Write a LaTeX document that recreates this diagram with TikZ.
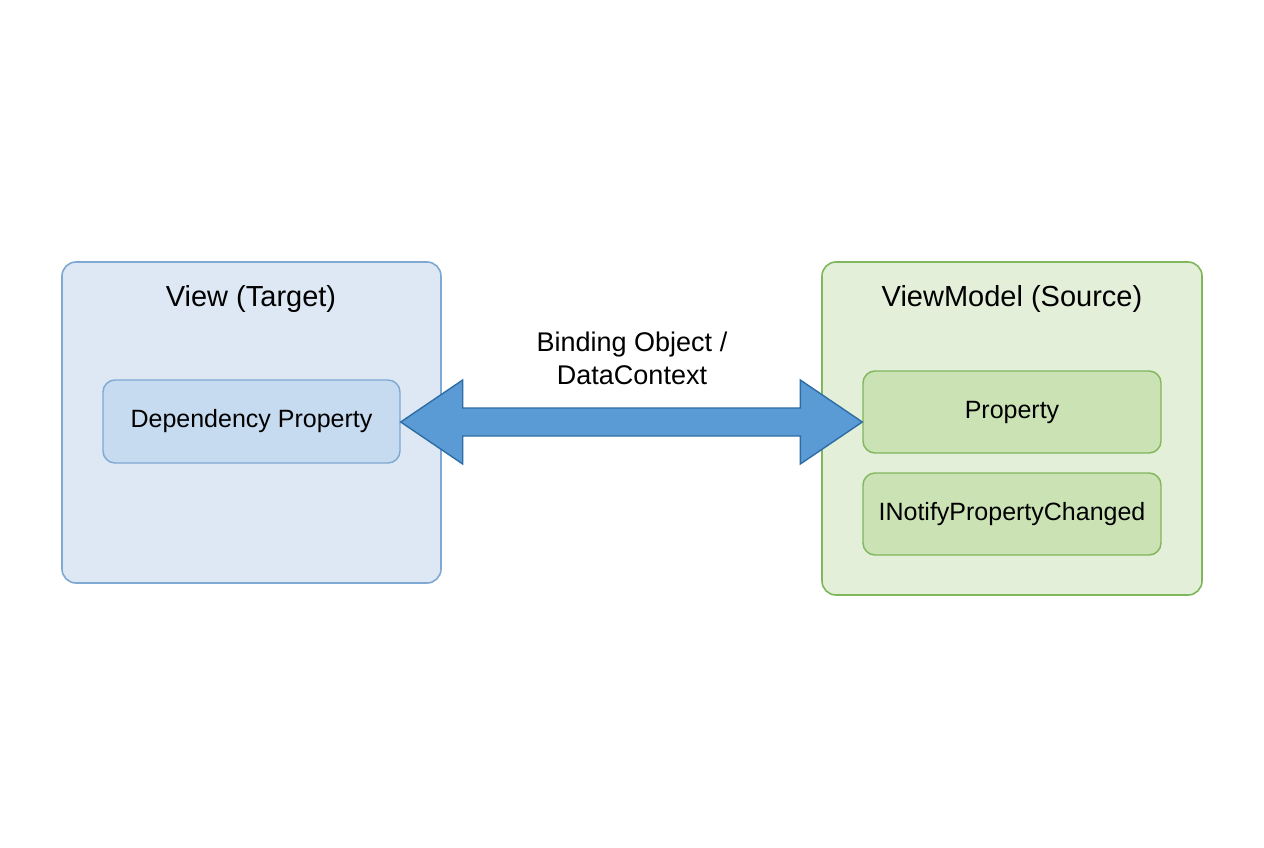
\documentclass[tikz,border=0pt]{standalone}
\usepackage{fontspec}
\setmainfont{Liberation Sans}
\usetikzlibrary{positioning,calc}
\definecolor{viewfill}{HTML}{DDE8F4}
\definecolor{viewline}{HTML}{7FA8D2}
\definecolor{viewin}{HTML}{C6DAF0}
\definecolor{vmfill}{HTML}{E3EFD8}
\definecolor{vmline}{HTML}{80B65C}
\definecolor{vmin}{HTML}{CAE2B4}
\definecolor{arrfill}{HTML}{5B9BD5}
\definecolor{arrline}{HTML}{2E6DA4}
\tikzset{
  outerbox/.style = {draw, line width=1.6pt, rounded corners=14pt},
  innerbox/.style = {draw, line width=1.4pt, rounded corners=12pt, font=\fontsize{25}{30}\selectfont}
}
\begin{document}
\begin{tikzpicture}[x=1pt,y=-1pt]
            \useasboundingbox (0,0) rectangle (1264,848);
            \fill[white] (0,0) rectangle (1264,848);
            % view side
            \draw[outerbox, draw=viewline, fill=viewfill] (62,262) rectangle (441,583);
            \node (viewtitle) at (251,299) {\fontsize{29}{34}\selectfont View (Target)};
            \node (dep) [innerbox, draw=viewline, fill=viewin, minimum width=297pt, minimum height=83pt] at (251.5,421.5) {Dependency Property};
            % viewmodel side
            \draw[outerbox, draw=vmline, fill=vmfill] (822,262) rectangle (1202,595);
            \node (vmtitle) at (1012,299) {\fontsize{29}{34}\selectfont ViewModel (Source)};
            \node (prop) [innerbox, draw=vmline, fill=vmin, minimum width=298pt, minimum height=82pt] at (1012,412) {Property};
            \node (inotify) [innerbox, draw=vmline, fill=vmin, minimum width=298pt, minimum height=82pt] at (1012,514) {INotifyPropertyChanged};
            % binding arrow
            \draw[line width=1.4pt, draw=arrline, fill=arrfill, line join=miter]
              (dep.east |- 0,422) -- ++(62,-42) -- ++(0,28) -- ($(prop.west |- 0,408)+(-62,0)$)
              -- ++(0,-28) -- (prop.west |- 0,422) -- ++(-62,42) -- ++(0,-28)
              -- ($(dep.east |- 0,436)+(62,0)$) -- ++(0,28) -- cycle;
            \node (binding) [align=center, font=\fontsize{27}{33}\selectfont] at (632,358) {Binding Object /\\DataContext};
          \end{tikzpicture}
\end{document}
